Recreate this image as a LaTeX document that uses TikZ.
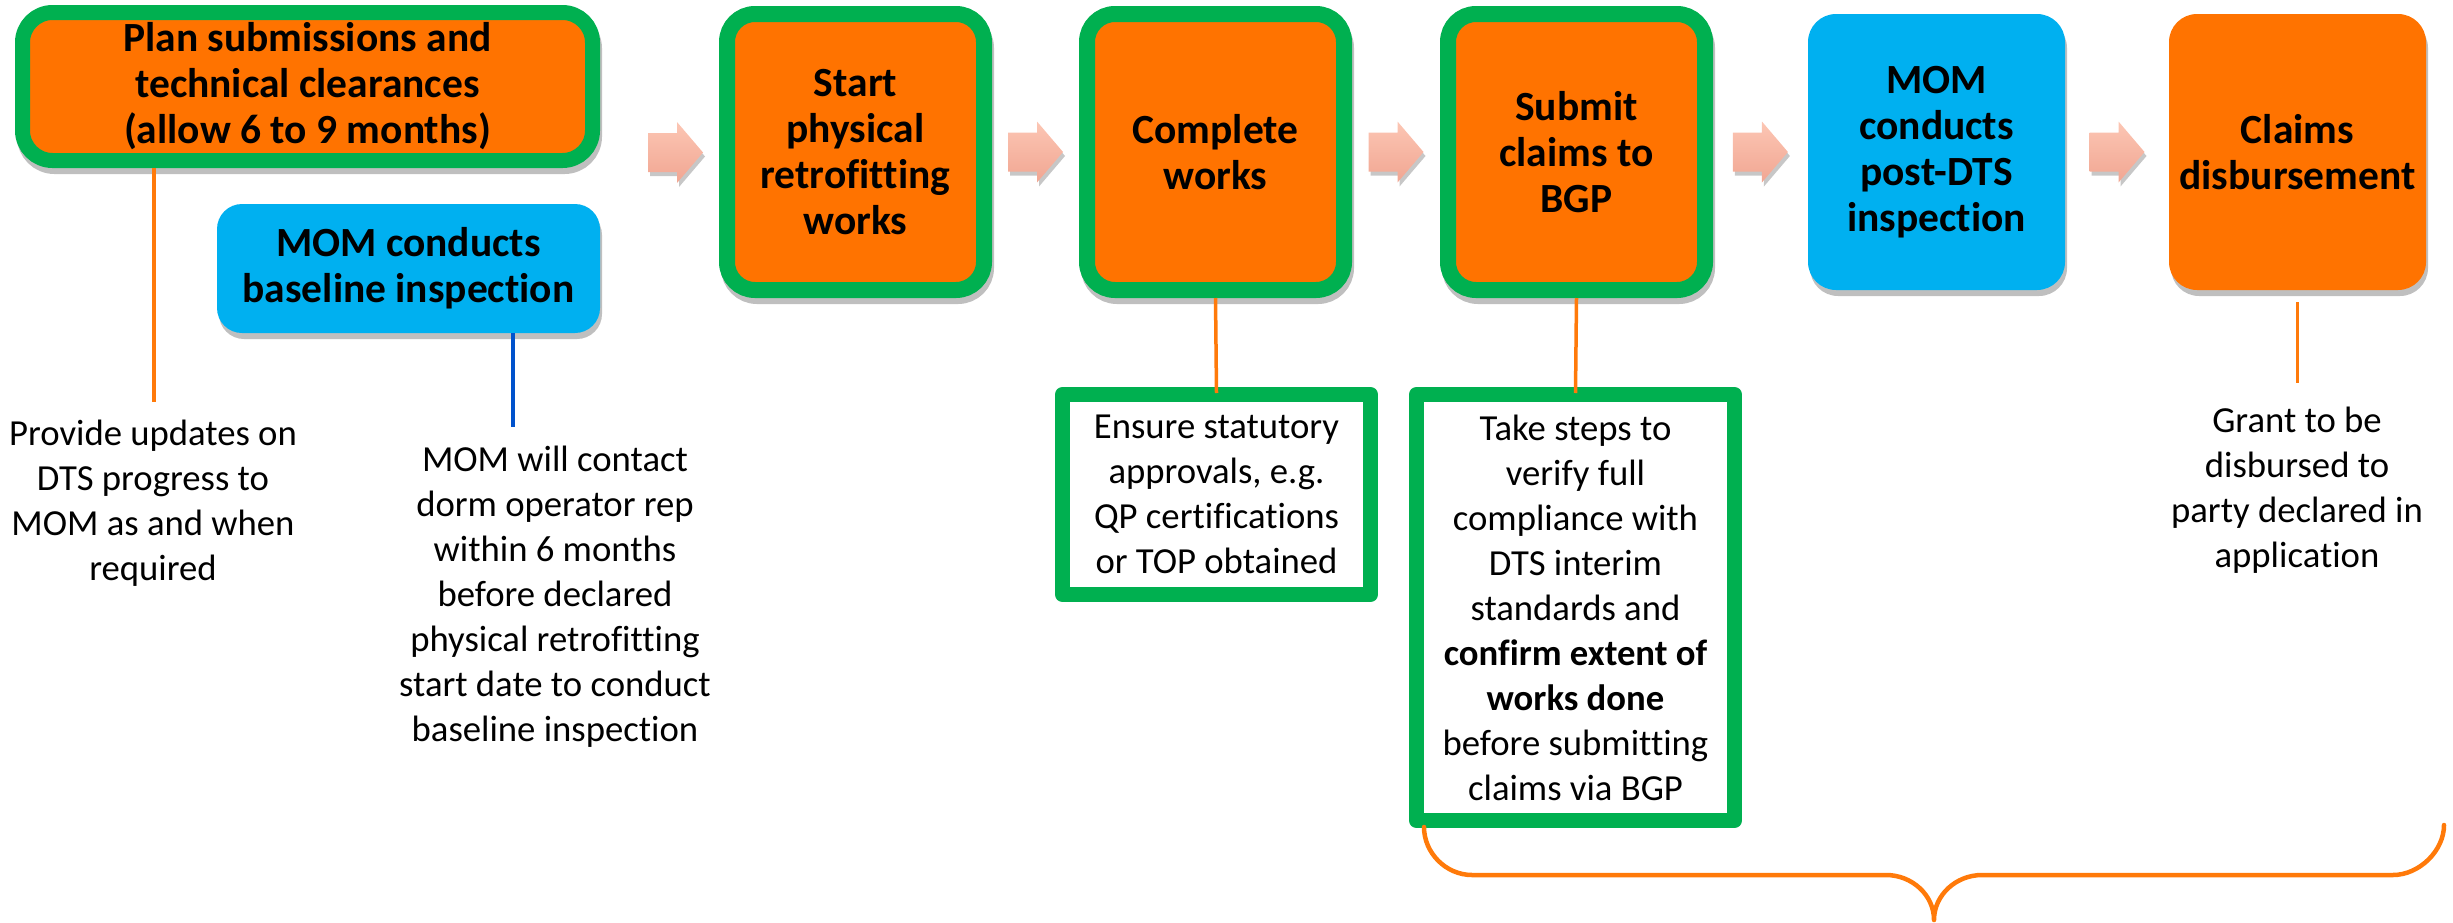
\documentclass[tikz,border=0pt]{standalone}
\usepackage{fontspec}
\setmainfont{Carlito}[Ligatures=NoCommon]
\usetikzlibrary{shadows,calc}
\definecolor{boxorange}{RGB}{255,115,0}
\definecolor{boxgreen}{RGB}{0,176,80}
\definecolor{boxblue}{RGB}{0,176,240}
\definecolor{lineorange}{RGB}{255,122,10}
\definecolor{lineblue}{RGB}{0,82,204}
\definecolor{arrowtop}{RGB}{252,198,180}
\definecolor{arrowbot}{RGB}{241,166,146}
\tikzset{
  titlefont/.style={font=\fontsize{41.5}{46}\selectfont\bfseries},
  bodyfont/.style={font=\fontsize{36.7}{45}\selectfont},
  softshadow/.style={drop shadow={shadow xshift=2pt, shadow yshift=-6pt, opacity=0.25, fill=black}},
  ringshadow/.style={drop shadow={shadow xshift=2pt, shadow yshift=-6pt, opacity=0.25, fill=black, draw=black, line width=#1}},
  stepbox/.style={titlefont, align=center, inner sep=0pt, fill=boxorange, draw=boxgreen,
    line width=16pt, rounded corners=28pt, minimum width=257pt, minimum height=276pt, ringshadow=16pt},
  planbox/.style={titlefont, align=center, inner sep=0pt, fill=boxorange, draw=boxgreen,
    line width=15pt, rounded corners=30pt, minimum width=570pt, minimum height=148pt, ringshadow=15pt},
  bluebox/.style={titlefont, align=center, inner sep=0pt, fill=boxblue, rounded corners=28pt, softshadow},
  orangebox/.style={titlefont, align=center, inner sep=0pt, fill=boxorange, rounded corners=28pt, softshadow},
  notebox/.style={bodyfont, align=center, inner sep=0pt, fill=white, draw=boxgreen, line width=15pt, line join=round},
  plaintext/.style={bodyfont, align=center, inner sep=0pt},
  oline/.style={draw=lineorange, line width=3.5pt},
  bline/.style={draw=lineblue, line width=3.5pt},
  bracestyle/.style={draw=lineorange, line width=4.5pt, line cap=round, line join=round},
  barrow/.pic={
    \path[top color=arrowtop, bottom color=arrowbot,
      drop shadow={shadow xshift=2pt, shadow yshift=-4pt, opacity=0.22, fill=black}]
      (-27.5,-19.5) -- (1.5,-19.5) -- (1.5,-30.5) -- (27.5,0) -- (1.5,30.5) -- (1.5,19.5) -- (-27.5,19.5) -- cycle;
  }
}
\begin{document}
\begin{tikzpicture}[x=1pt,y=-1pt]
\useasboundingbox (0,0) rectangle (2453,922);

% main boxes
\node[planbox] (plan) at (307.5,86.5) {Plan submissions and\\technical clearances\\(allow 6 to 9 months)};
\node[bluebox, minimum width=383pt, minimum height=129pt, rounded corners=25pt] (base) at (408.5,268.5) {MOM conducts\\baseline inspection};
\node[stepbox] (start) at (855.5,152) {Start\\physical\\retrofitting\\works};
\node[stepbox] (complete) at (1215.5,152) {Complete\\works};
\node[stepbox] (submit) at (1576.5,152) {Submit\\claims to\\BGP};
\node[bluebox, minimum width=257pt, minimum height=276pt] (post) at (1936.5,152) {MOM\\conducts\\post-DTS\\inspection};
\node[orangebox, minimum width=257pt, minimum height=276pt] (claims) at (2297.5,152) {Claims\\disbursement};

% block arrows
\pic at (675.5,152.5) {barrow};
\pic at ($(start.east)!0.5!(complete.west)$) {barrow};
\pic at ($(complete.east)!0.5!(submit.west)$) {barrow};
\pic at ($(submit.east)!0.5!(post.west)$) {barrow};
\pic at ($(post.east)!0.5!(claims.west)$) {barrow};

% note boxes
\node[notebox, minimum width=308pt, minimum height=200pt] (ensure) at (1216.5,494.5)
  {Ensure statutory\\approvals, e.g.\\QP certifications\\or TOP obtained};
\node[notebox, minimum width=318pt, minimum height=426pt] (verify) at (1575.5,607.5)
  {Take steps to\\verify full\\compliance with\\DTS interim\\standards and\\\textbf{confirm extent of}\\\textbf{works done}\\before submitting\\claims via BGP};

% plain texts
\node[plaintext] (provide) at (153,503.5) {Provide updates on\\DTS progress to\\MOM as and when\\required};
\node[plaintext] (contact) at (555,597) {MOM will contact\\dorm operator rep\\within 6 months\\before declared\\physical retrofitting\\start date to conduct\\baseline inspection};
\node[plaintext] (grant) at (2297,490) {Grant to be\\disbursed to\\party declared in\\application};

% connectors
\coordinate (planEnd) at (154,402);
\draw[oline] (planEnd |- plan.south) -- (planEnd);
\coordinate (baseEnd) at (513,427);
\draw[bline] (baseEnd |- base.south) -- (baseEnd);
\draw[oline] (complete.south) -- ([yshift=-6pt]ensure.north);
\draw[oline] (submit.south) -- ([yshift=-6pt]verify.north);
\coordinate (grantTop) at (2297.5,383);
\draw[oline] ([yshift=-12pt]claims.south) -- (grantTop);

% brace
\coordinate (brL) at (1424,827);
\coordinate (brTip) at (1934,920);
\coordinate (brR) at (2444,825);
\draw[bracestyle] (brL) .. controls (1424,853) and (1446,875) .. (1472,875)
  -- (1886,875) .. controls (1912,875) and (1934,895) .. (brTip)
  .. controls (1934,895) and (1956,875) .. (1982,875)
  -- (2393,875) .. controls (2419,875) and (2444,851) .. (brR);
\end{tikzpicture}
\end{document}
